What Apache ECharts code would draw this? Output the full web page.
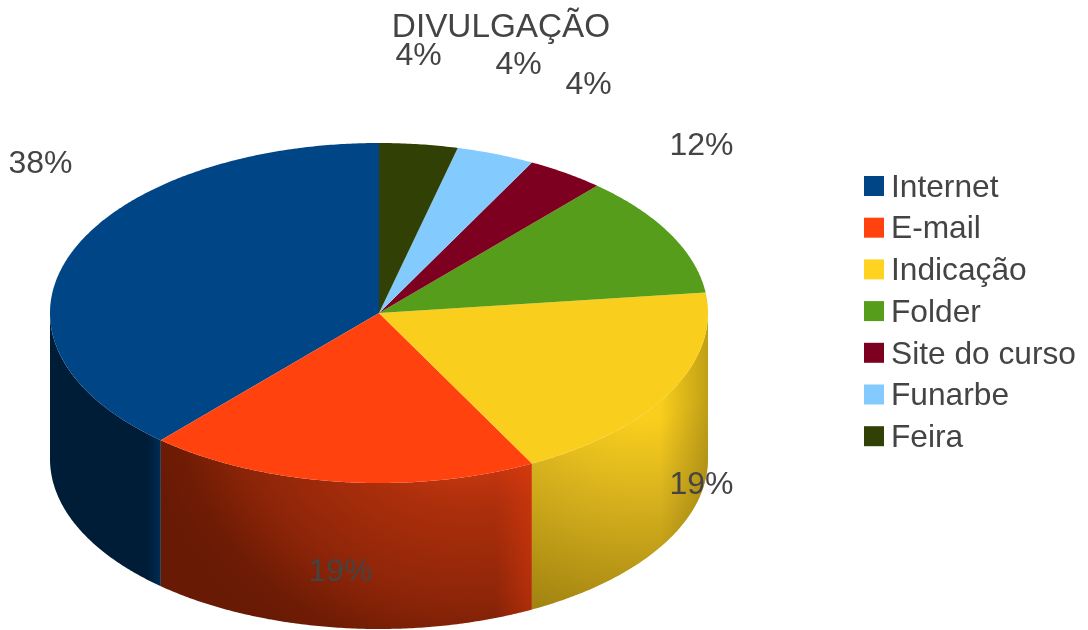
<!DOCTYPE html>
<html>
<head>
<meta charset="utf-8">
<title>DIVULGAÇÃO</title>
<script src="https://cdn.jsdelivr.net/npm/echarts@6/dist/echarts.min.js"></script>
<style>
html, body { margin: 0; padding: 0; background: #fff; }
#main { width: 1088px; height: 630px; }
</style>
</head>
<body>
<div id="main"></div>
<script>
// counts behind the percentages (10+5+5+3+1+1+1 = 26 answers)
var categories = ['Internet', 'E-mail', 'Indicação', 'Folder', 'Site do curso', 'Funarbe', 'Feira'];
var values = [10, 5, 5, 3, 1, 1, 1];
var colors = ['#004586', '#ff420e', '#f9ce1d', '#579d1c', '#7e0021', '#83caff', '#314004'];
var legendColors = ['#004586', '#ff420e', '#ffd320', '#579d1c', '#7e0021', '#83caff', '#314004'];

// pie geometry, the disc is an ellipse with a wall below it
var cx = 379, cy = 313, rx = 329, ry = 170, depth = 146;
// where LibreOffice left each percent label
var labelX = [40.5, 340.5, 701.5, 701.5, 588.5, 518.5, 418.5];
var labelY = [164.5, 572.5, 485, 146.5, 85.5, 65.5, 56];
var textColor = '#444444';

var total = values.reduce(function (a, b) { return a + b; }, 0);
var G = echarts.graphic;

function sideFill(i) {
  if (i == 0) {
    return new G.LinearGradient(148, 0, 162, 0, [
      { offset: 0, color: '#001d38' },
      { offset: 1, color: '#002e58' }
    ], true);
  }
  if (i == 1) {
    return new G.RadialGradient(470, 350, 340, [
      { offset: 0.3, color: '#d03a10' },
      { offset: 0.46, color: '#ad2f0c' },
      { offset: 0.74, color: '#8d2508' },
      { offset: 0.9, color: '#701c05' },
      { offset: 1, color: '#681a05' }
    ], true);
  }
  return new G.RadialGradient(640, 330, 300, [
    { offset: 0.3, color: '#f9ce1d' },
    { offset: 0.55, color: '#d9b31e' },
    { offset: 1, color: '#a08210' }
  ], true);
}

// lighter or darker band at one end of a wall
function bandFill(i) {
  if (i == 1) {
    return new G.LinearGradient(495, 0, 533, 0, [
      { offset: 0, color: 'rgba(255,66,14,0)' },
      { offset: 1, color: 'rgba(255,66,14,0.35)' }
    ], true);
  }
  if (i == 2) {
    return new G.LinearGradient(660, 0, 708, 0, [
      { offset: 0, color: 'rgba(110,90,10,0)' },
      { offset: 1, color: 'rgba(110,90,10,0.4)' }
    ], true);
  }
  return null;
}

function arcPoints(from, to, dy) {
  var pts = [];
  var n = Math.max(2, Math.ceil((to - from) * 180 / Math.PI * 2));
  for (var k = 0; k <= n; k++) {
    var t = from + (to - from) * k / n;
    pts.push([cx - rx * Math.sin(t), cy - ry * Math.cos(t) + dy]);
  }
  return pts;
}

function renderSlice(params, api) {
  var i = params.seriesIndex;
  var before = 0;
  for (var j = 0; j < i; j++) before += values[j];
  var from = before / total * Math.PI * 2;
  var to = (before + api.value(0)) / total * Math.PI * 2;
  var children = [];

  // the wall only shows on the front half of the ellipse
  var a = Math.max(from, Math.PI / 2), b = Math.min(to, Math.PI * 1.5);
  if (a < b) {
    var wall = arcPoints(a, b, 0).concat(arcPoints(a, b, depth).reverse());
    children.push({ type: 'polygon', shape: { points: wall }, style: { fill: sideFill(i) } });
    if (bandFill(i)) {
      children.push({ type: 'polygon', shape: { points: wall }, style: { fill: bandFill(i) } });
    }
  }

  var top = [[cx, cy]].concat(arcPoints(from, to, 0));
  children.push({ type: 'polygon', shape: { points: top }, style: { fill: colors[i] } });

  children.push({
    type: 'text',
    z2: 10,
    style: {
      x: labelX[i],
      y: labelY[i],
      text: Math.round(api.value(0) / total * 100) + '%',
      fill: textColor,
      font: '32px "Liberation Sans"',
      textAlign: 'center',
      textVerticalAlign: 'middle'
    }
  });
  return { type: 'group', children: children };
}

var chart = echarts.init(document.getElementById('main'), null, { renderer: 'canvas' });
chart.setOption({
  animation: false,
  title: {
    text: 'DIVULGAÇÃO',
    left: 496,
    top: 6,
    textAlign: 'center',
    textStyle: { color: textColor, fontFamily: 'Liberation Sans', fontSize: 33.3, fontWeight: 'normal' }
  },
  legend: {
    orient: 'vertical',
    left: 864,
    top: 168,
    padding: 0,
    icon: 'rect',
    itemWidth: 20,
    itemHeight: 20,
    itemGap: 5.7,
    selectedMode: false,
    data: categories,
    formatter: '{t|{name}}',
    textStyle: {
      rich: {
        t: {
          color: textColor,
          fontFamily: 'Liberation Sans',
          fontSize: 31.7,
          lineHeight: 32,
          padding: [4, 0, 0, 2]
        }
      }
    }
  },
  series: categories.map(function (name, i) {
    return {
      type: 'custom',
      name: name,
      coordinateSystem: 'none',
      clip: false,
      silent: true,
      itemStyle: { color: legendColors[i] },
      data: [[values[i]]],
      renderItem: renderSlice
    };
  })
});
</script>
</body>
</html>
